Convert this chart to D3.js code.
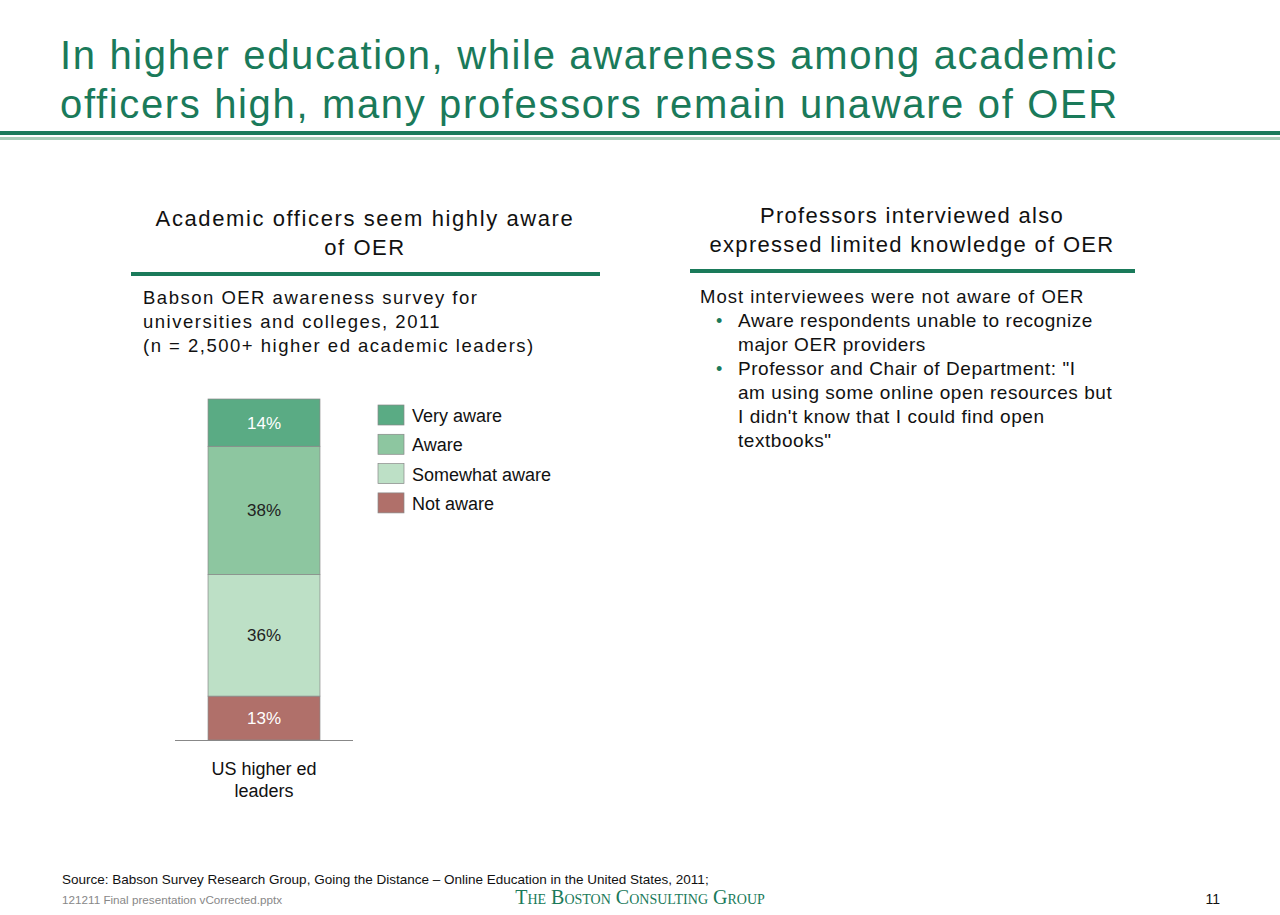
<!DOCTYPE html>
<html><head><meta charset="utf-8">
<script src="https://cdn.jsdelivr.net/npm/d3@7"></script>
<style>body{margin:0;background:#fff}svg{font-family:"Liberation Sans",Arial,sans-serif}</style>
</head><body><svg id="c" width="1280" height="915"></svg>
<script>
const categories = ["US higher ed leaders"];
const seriesNames = ["Not aware","Somewhat aware","Aware","Very aware"];
const seriesValues = [13,36,38,14];
const seriesColors = ["#b0706a","#bde0c6","#8dc6a0","#5aab84"];
const labelColors = ["#fff","#222","#222","#fff"];

const svg = d3.select("#c");
const green = "#1a7a5a";
const t = svg.append("text").attr("fill",green).attr("font-size",40).attr("letter-spacing",1.65);
t.append("tspan").attr("x",60).attr("y",69).text("In higher education, while awareness among academic");
t.append("tspan").attr("x",60).attr("y",118).text("officers high, many professors remain unaware of OER");
svg.append("rect").attr("x",0).attr("y",131).attr("width",1280).attr("height",4).attr("fill",green);
svg.append("rect").attr("x",0).attr("y",137).attr("width",1280).attr("height",3).attr("fill","#a8cdb8");

function lines(x,y,arr,opts){
  const g=svg.append("text").attr("font-size",opts.size).attr("fill",opts.fill||"#111").attr("text-anchor",opts.anchor||"start").attr("letter-spacing",opts.ls||0);
  arr.forEach((s,i)=>g.append("tspan").attr("x",x).attr("y",y+i*opts.lh).text(s));
}
lines(365,226,["Academic officers seem highly aware","of OER"],{size:22,lh:29,anchor:"middle",ls:1.6});
lines(912,223,["Professors interviewed also","expressed limited knowledge of OER"],{size:22,lh:29,anchor:"middle",ls:1.3});
svg.append("rect").attr("x",131).attr("y",272).attr("width",469).attr("height",4).attr("fill",green);
svg.append("rect").attr("x",690).attr("y",269).attr("width",445).attr("height",4).attr("fill",green);

lines(143,304,["Babson OER awareness survey for","universities and colleges, 2011","(n = 2,500+ higher ed academic leaders)"],{size:18.5,lh:24,ls:1.5});
lines(700,303,["Most interviewees were not aware of OER"],{size:18.5,lh:24,ls:1.0});
[["Aware respondents unable to recognize","major OER providers"],["Professor and Chair of Department: \"I","am using some online open resources but","I didn't know that I could find open","textbooks\""]].reduce((y,b)=>{
  svg.append("text").attr("x",716).attr("y",y).attr("font-size",18).attr("fill",green).text("•");
  lines(738,y,b,{size:19,lh:24,ls:0.55});
  return y+b.length*24;
},327);

const x = d3.scaleBand().domain(categories).range([175,353]).paddingInner(0).paddingOuter(0.295);
const y = d3.scaleLinear().domain([0,101]).range([740,399]);
let cum=0;
const stacks = seriesValues.map((v,i)=>{const s={v,i,y0:cum,y1:cum+v};cum+=v;return s;});
categories.forEach(c=>{
  const g=svg.append("g");
  g.selectAll("rect").data(stacks).join("rect")
    .attr("x",x(c)).attr("width",x.bandwidth())
    .attr("y",d=>y(d.y1)).attr("height",d=>y(d.y0)-y(d.y1))
    .attr("fill",d=>seriesColors[d.i]).attr("stroke","#888").attr("stroke-width",0.7);
  g.selectAll("text").data(stacks).join("text")
    .attr("x",x(c)+x.bandwidth()/2).attr("y",d=>y((d.y0+d.y1)/2)+6)
    .attr("text-anchor","middle").attr("font-size",17).attr("fill",d=>labelColors[d.i]).text(d=>d.v+"%");
});
svg.append("line").attr("x1",175).attr("x2",353).attr("y1",740.5).attr("y2",740.5).attr("stroke","#888");
lines(264,775,["US higher ed","leaders"],{size:18,lh:22,anchor:"middle"});

const legOrder=[3,2,1,0];
legOrder.forEach((i,k)=>{
  const ly=405+k*29.3;
  svg.append("rect").attr("x",378).attr("y",ly).attr("width",26).attr("height",20).attr("fill",seriesColors[i]).attr("stroke","#888").attr("stroke-width",0.7);
  svg.append("text").attr("x",412).attr("y",ly+17).attr("font-size",18).attr("fill","#111").text(seriesNames[i]);
});

svg.append("text").attr("x",62).attr("y",884).attr("font-size",13.5).attr("fill","#111").text("Source: Babson Survey Research Group, Going the Distance – Online Education in the United States, 2011;");
svg.append("text").attr("x",62).attr("y",904).attr("font-size",11.7).attr("fill","#888").text("121211 Final presentation vCorrected.pptx");
svg.append("text").attr("x",640).attr("y",904).attr("text-anchor","middle").attr("font-family","'Liberation Serif',serif").attr("font-size",20).attr("fill",green).attr("style","font-variant:small-caps").text("The Boston Consulting Group");
svg.append("text").attr("x",1220).attr("y",904).attr("text-anchor","end").attr("font-size",14).attr("fill","#111").text("11");
</script></body></html>
